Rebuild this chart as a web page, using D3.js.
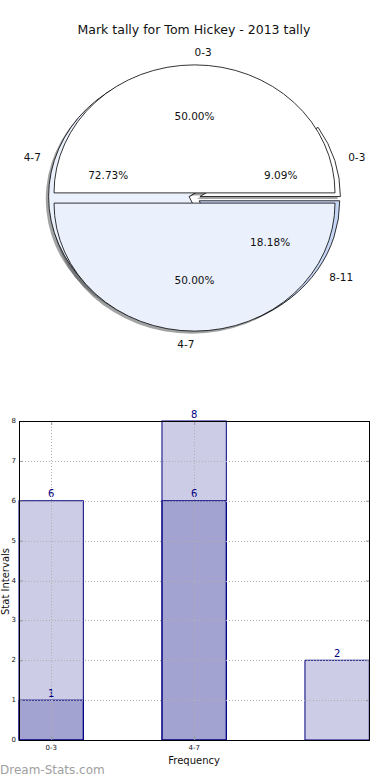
<!DOCTYPE html>
<html>
<head>
<meta charset="utf-8">
<script src="https://cdn.jsdelivr.net/npm/d3@7"></script>
<style>
  body { margin: 0; background: #fff; }
  svg { display: block; font-family: "DejaVu Sans", sans-serif; }
</style>
</head>
<body>
<div id="chart"></div>
<script>
// Data
const title = "Mark tally for Tom Hickey - 2013 tally"
const outerLabels = ["0-3", "4-7"]
const outerValues = [1, 1]
const innerLabels = ["0-3", "4-7", "8-11"]
const innerValues = [1, 8, 2]

const barCategories = ["0-3", "4-7", "8-11"]
const tickLabels = ["0-3", "4-7"]
const seriesA = [6, 8, 2]
const seriesB = [1, 6]
const yTicks = [0, 1, 2, 3, 4, 5, 6, 7, 8]

const sliceColors = { "0-3": "#ffffff", "4-7": "#eaf0fc", "8-11": "#c6d7f5" }

const width = 390
const height = 780

const svg = d3.select("#chart").append("svg")
    .attr("width", width)
    .attr("height", height)

// Title
svg.append("text")
    .attr("x", 194)
    .attr("y", 34)
    .attr("text-anchor", "middle")
    .attr("font-size", "12.5px")
    .attr("fill", "#111")
    .text(title)

// Pie (elliptical, matplotlib style)
const pieDims = { cx: 194.5, cy: 198, rx: 140.5, ry: 128 }
const R = 100
const explode = 0.04

const pieGen = d3.pie()
    .sort(null)
    .startAngle(Math.PI / 2)
    .endAngle(Math.PI / 2 - 2 * Math.PI)

const arcGen = d3.arc().innerRadius(0).outerRadius(R)

const pieScale = `translate(${pieDims.cx},${pieDims.cy}) scale(${pieDims.rx / R},${pieDims.ry / R})`
const shadowLayer = svg.append("g").attr("transform", pieScale)
const wedgeLayer = svg.append("g").attr("transform", pieScale)
const labelLayer = svg.append("g")

const fmtPct = d3.format(".2f")

function drawPie(labels, values) {
    const arcs = pieGen(values)
    const total = d3.sum(values)
    arcs.forEach((a, i) => {
        const mid = (a.startAngle + a.endAngle) / 2
        const dx = Math.sin(mid) * explode * R
        const dy = -Math.cos(mid) * explode * R
        const face = sliceColors[labels[i]]
        const c = d3.rgb(face)

        shadowLayer.append("path")
            .attr("d", arcGen(a))
            .attr("transform", `translate(${dx - 0.02 * R},${dy + 0.02 * R})`)
            .attr("fill", d3.rgb(c.r * 0.3, c.g * 0.3, c.b * 0.3))
            .attr("opacity", 0.5)

        wedgeLayer.append("path")
            .attr("d", arcGen(a))
            .attr("transform", `translate(${dx},${dy})`)
            .attr("fill", face)
            .attr("stroke", "#000")
            .attr("stroke-width", 0.8)
            .attr("vector-effect", "non-scaling-stroke")

        const sx = Math.sin(mid), sy = -Math.cos(mid)
        labelLayer.append("text")
            .attr("x", pieDims.cx + pieDims.rx * (explode + 1.1) * sx)
            .attr("y", pieDims.cy + pieDims.ry * (explode + 1.1) * sy)
            .attr("text-anchor", sx >= 0 ? "start" : "end")
            .attr("dominant-baseline", "central")
            .attr("font-size", "10.5px")
            .attr("fill", "#111")
            .text(labels[i])

        labelLayer.append("text")
            .attr("x", pieDims.cx + pieDims.rx * (explode + 0.6) * sx)
            .attr("y", pieDims.cy + pieDims.ry * (explode + 0.6) * sy)
            .attr("text-anchor", "middle")
            .attr("dominant-baseline", "central")
            .attr("font-size", "10.5px")
            .attr("fill", "#111")
            .text(fmtPct(a.value / total * 100) + "%")
    })
}

drawPie(innerLabels, innerValues)
drawPie(outerLabels, outerValues)

// Bar chart
const plot = { left: 19, right: 370, top: 421, bottom: 740 }
const barWidth = 0.45

const xScale = d3.scaleLinear()
    .domain([0, 2.455])
    .range([plot.left, plot.right])

const yScale = d3.scaleLinear()
    .domain([0, 8])
    .range([plot.bottom, plot.top])

const bars = svg.append("g")

function drawBars(values) {
    bars.selectAll(null)
        .data(values)
        .enter().append("rect")
        .attr("x", (d, i) => xScale(i))
        .attr("y", d => yScale(d))
        .attr("width", xScale(barWidth) - xScale(0))
        .attr("height", d => yScale(0) - yScale(d))
        .attr("fill", "navy")
        .attr("fill-opacity", 0.2)
        .attr("stroke", "navy")
        .attr("stroke-width", 1)

    bars.selectAll(null)
        .data(values)
        .enter().append("text")
        .attr("x", (d, i) => xScale(i + barWidth / 2))
        .attr("y", d => yScale(d) - 3.5)
        .attr("text-anchor", "middle")
        .attr("font-size", "10px")
        .attr("fill", "navy")
        .text(d => d)
}

drawBars(seriesA)
drawBars(seriesB)

// Grid lines
const grid = svg.append("g")
    .attr("stroke", "#b0b0b0")
    .attr("stroke-width", 1)
    .attr("stroke-dasharray", "1,2")

grid.selectAll(null)
    .data(yTicks.slice(1, -1))
    .enter().append("line")
    .attr("x1", plot.left)
    .attr("x2", plot.right)
    .attr("y1", d => Math.round(yScale(d)) + 0.5)
    .attr("y2", d => Math.round(yScale(d)) + 0.5)

grid.selectAll(null)
    .data(tickLabels)
    .enter().append("line")
    .attr("x1", (d, i) => Math.round(xScale(i + barWidth / 2)) + 0.5)
    .attr("x2", (d, i) => Math.round(xScale(i + barWidth / 2)) + 0.5)
    .attr("y1", plot.top)
    .attr("y2", plot.bottom)

// Axes: inside ticks on all four sides
const yAxisLeft = d3.axisRight(yScale).tickValues(yTicks).tickSize(4).tickFormat("")
const yAxisRight = d3.axisLeft(yScale).tickValues(yTicks).tickSize(4).tickFormat("")
const xPos = tickLabels.map((d, i) => i + barWidth / 2)
const xAxisBottom = d3.axisTop(xScale).tickValues(xPos).tickSize(4).tickFormat("")
const xAxisTop = d3.axisBottom(xScale).tickValues(xPos).tickSize(4).tickFormat("")

function styleAxis(g) {
    g.select(".domain").remove()
    g.selectAll(".tick line").attr("stroke", "#999")
}

svg.append("g").attr("transform", `translate(${plot.left},0)`).call(yAxisLeft).call(styleAxis)
svg.append("g").attr("transform", `translate(${plot.right},0)`).call(yAxisRight).call(styleAxis)
svg.append("g").attr("transform", `translate(0,${plot.bottom})`).call(xAxisBottom).call(styleAxis)
svg.append("g").attr("transform", `translate(0,${plot.top})`).call(xAxisTop).call(styleAxis)

// Frame
svg.append("rect")
    .attr("x", plot.left + 0.5)
    .attr("y", plot.top + 0.5)
    .attr("width", plot.right - plot.left - 1)
    .attr("height", plot.bottom - plot.top)
    .attr("fill", "none")
    .attr("stroke", "#000")
    .attr("stroke-width", 1)

// Tick labels
svg.selectAll(".ytick")
    .data(yTicks)
    .enter().append("text")
    .attr("class", "ytick")
    .attr("x", plot.left - 3)
    .attr("y", d => yScale(d))
    .attr("text-anchor", "end")
    .attr("dominant-baseline", "central")
    .attr("font-size", "7px")
    .attr("fill", "#111")
    .text(d => d)

svg.selectAll(".xtick")
    .data(tickLabels)
    .enter().append("text")
    .attr("class", "xtick")
    .attr("x", (d, i) => xScale(i + barWidth / 2))
    .attr("y", plot.bottom + 10)
    .attr("text-anchor", "middle")
    .attr("font-size", "7px")
    .attr("fill", "#111")
    .text(d => d)

// Axis labels
svg.append("text")
    .attr("x", xScale(1 + barWidth / 2))
    .attr("y", 764)
    .attr("text-anchor", "middle")
    .attr("font-size", "10px")
    .attr("fill", "#111")
    .text("Frequency")

svg.append("text")
    .attr("transform", `translate(8.5,${(plot.top + plot.bottom) / 2 + 1}) rotate(-90)`)
    .attr("text-anchor", "middle")
    .attr("font-size", "10px")
    .attr("fill", "#111")
    .text("Stat Intervals")

// Watermark
svg.append("text")
    .attr("x", 0)
    .attr("y", 774)
    .attr("font-size", "12px")
    .attr("fill", "#a0a0a0")
    .text("Dream-Stats.com")
</script>
</body>
</html>
